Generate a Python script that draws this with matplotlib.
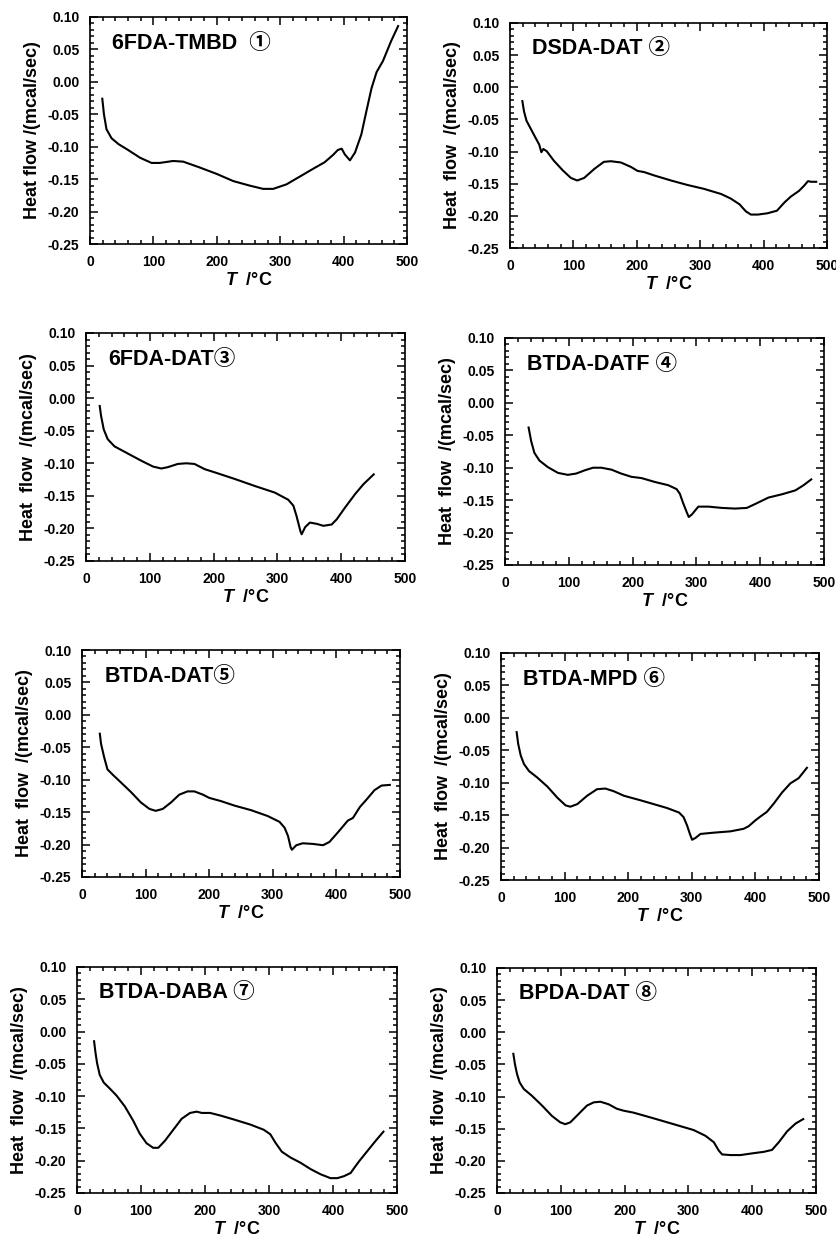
import numpy as np
import matplotlib
matplotlib.use("Agg")
import matplotlib.pyplot as plt
from matplotlib.ticker import MultipleLocator, FormatStrFormatter

plt.rcParams['font.family'] = ['Liberation Sans', 'Noto Sans CJK JP', 'DejaVu Sans']
plt.rcParams['mathtext.fontset'] = 'custom'
plt.rcParams['mathtext.it'] = 'Liberation Sans:italic:bold'
plt.rcParams['mathtext.rm'] = 'Liberation Sans:bold'

# DSC traces, heat flow (mcal/sec) vs temperature (degC)
names = ["6FDA-TMBD  ①", "DSDA-DAT ②", "6FDA-DAT③", "BTDA-DATF ④",
         "BTDA-DAT⑤", "BTDA-MPD ⑥", "BTDA-DABA ⑦", "BPDA-DAT ⑧"]

t1 = [19.4, 22, 26, 34, 45, 60, 79, 97, 110, 131, 147, 173, 200, 226, 252, 273, 289, 310,
      331, 352, 370, 383, 391, 397, 402, 410, 418, 428, 436, 444, 452, 462, 475, 486]
h1 = [-0.026, -0.050, -0.073, -0.087, -0.096, -0.105, -0.117, -0.125, -0.125, -0.122, -0.123,
      -0.132, -0.142, -0.153, -0.160, -0.165, -0.165, -0.158, -0.146, -0.134, -0.124, -0.113,
      -0.105, -0.103, -0.112, -0.121, -0.109, -0.081, -0.045, -0.010, 0.015, 0.032, 0.063, 0.086]

t2 = [19.5, 22, 26, 33, 40.5, 46, 49.5, 52.6, 58, 69, 83, 96, 106, 117, 133, 148, 159, 175,
      191, 201, 212, 227, 254, 280, 306, 333, 348, 362, 372, 380, 391, 406, 421, 433, 443,
      456, 464, 470, 475, 483]
h2 = [-0.0215, -0.037, -0.052, -0.065, -0.079, -0.089, -0.101, -0.096, -0.0995, -0.114,
      -0.129, -0.141, -0.145, -0.141, -0.127, -0.116, -0.115, -0.117, -0.124, -0.130, -0.132,
      -0.137, -0.145, -0.152, -0.158, -0.166, -0.173, -0.182, -0.193, -0.198, -0.198, -0.196,
      -0.192, -0.179, -0.170, -0.161, -0.153, -0.146, -0.147, -0.147]

t3 = [21.5, 23.6, 27.8, 34, 44.6, 65.5, 86.5, 105, 118, 128, 144, 157, 170, 186, 202, 233,
      265, 296, 317, 325, 330, 336, 338, 343.5, 351, 362, 372, 385, 393, 406, 422, 435, 451]
h3 = [-0.012, -0.027, -0.048, -0.063, -0.074, -0.085, -0.096, -0.105, -0.108, -0.106,
      -0.101, -0.100, -0.101, -0.109, -0.114, -0.124, -0.135, -0.145, -0.156, -0.165, -0.181,
      -0.204, -0.209, -0.198, -0.191, -0.193, -0.196, -0.194, -0.186, -0.168, -0.147, -0.132,
      -0.117]

t4 = [37, 41, 46, 54, 67, 83, 98.5, 111.6, 125, 138, 151, 167, 182, 198, 214, 235, 256, 269,
      274, 279, 285, 288, 293, 303, 319, 340, 360.5, 379, 392, 413, 434, 455, 468, 480]
h4 = [-0.038, -0.059, -0.077, -0.089, -0.099, -0.108, -0.111, -0.109, -0.104, -0.100,
      -0.100, -0.103, -0.109, -0.114, -0.116, -0.122, -0.127, -0.133, -0.140, -0.154, -0.169,
      -0.176, -0.172, -0.160, -0.160, -0.162, -0.163, -0.162, -0.156, -0.146, -0.141, -0.135,
      -0.127, -0.118]

t5 = [28, 30, 35, 40, 48, 61, 77, 92.5, 106, 116, 127, 140, 153, 166, 176.6, 190, 200,
      218.6, 240, 266, 292, 310.6, 318.5, 324, 328, 330, 337, 347, 363, 379, 389, 402.5, 418,
      426, 437, 447, 460, 471, 484]
h5 = [-0.029, -0.045, -0.066, -0.084, -0.092, -0.104, -0.119, -0.135, -0.145, -0.148,
      -0.145, -0.135, -0.123, -0.118, -0.118, -0.123, -0.128, -0.133, -0.140, -0.147, -0.156,
      -0.165, -0.174, -0.187, -0.204, -0.208, -0.201, -0.198, -0.199, -0.201, -0.196, -0.181,
      -0.163, -0.159, -0.142, -0.131, -0.116, -0.109, -0.108]

t6 = [24.6, 27, 31, 36, 44, 57, 73, 88.5, 101.6, 109, 120, 135.6, 151, 164, 177, 193, 204,
      219, 240, 261, 280, 287, 292.6, 297, 300.5, 306, 313.6, 334.6, 360.7, 381.7, 389.5,
      400, 408, 418, 429, 442, 455, 468, 481]
h6 = [-0.022, -0.040, -0.058, -0.071, -0.082, -0.092, -0.106, -0.123, -0.135, -0.137,
      -0.133, -0.120, -0.110, -0.109, -0.113, -0.120, -0.123, -0.127, -0.133, -0.139, -0.146,
      -0.153, -0.166, -0.179, -0.188, -0.185, -0.179, -0.177, -0.175, -0.171, -0.167, -0.158,
      -0.152, -0.145, -0.132, -0.115, -0.101, -0.093, -0.077]

t7 = [26.7, 28.8, 31.4, 35.5, 41.8, 51, 61.7, 74.8, 87.8, 98, 108.7, 119, 127, 137.5, 150.5,
      163.6, 176.7, 187, 195, 208, 224, 244.6, 270.8, 291.7, 302, 310, 320, 333.5, 349, 365,
      380.6, 396, 406.7, 417, 427.6, 434, 440.7, 453.7, 466.8, 478.8]
h7 = [-0.015, -0.032, -0.049, -0.067, -0.079, -0.088, -0.099, -0.116, -0.138, -0.158,
      -0.173, -0.180, -0.180, -0.169, -0.152, -0.135, -0.126, -0.124, -0.126, -0.126, -0.130,
      -0.136, -0.144, -0.152, -0.159, -0.172, -0.186, -0.195, -0.203, -0.213, -0.221, -0.227,
      -0.227, -0.224, -0.219, -0.210, -0.201, -0.185, -0.169, -0.155]

t8 = [25.6, 28.2, 31.4, 35.5, 41.8, 55, 70.6, 86, 99, 107, 115, 128, 141, 151.6, 162, 175,
      188, 198.6, 214, 246, 277, 308, 326.7, 339.8, 347.6, 352.9, 366, 381.6, 402.5, 418,
      431, 441.7, 454.8, 467.9, 480]
h8 = [-0.0335, -0.050, -0.065, -0.078, -0.088, -0.099, -0.114, -0.130, -0.140, -0.143,
      -0.140, -0.127, -0.114, -0.109, -0.108, -0.112, -0.119, -0.122, -0.125, -0.134, -0.143,
      -0.152, -0.161, -0.171, -0.184, -0.190, -0.191, -0.191, -0.188, -0.186, -0.183, -0.171,
      -0.154, -0.142, -0.135]

temps = [t1, t2, t3, t4, t5, t6, t7, t8]
flows = [h1, h2, h3, h4, h5, h6, h7, h8]

# axes boxes in pixels: left, top, right, bottom
W, H = 837, 1240
boxes = [(90, 17, 407, 244), (510, 23, 827, 248),
         (86, 333, 405, 561), (505, 338, 824, 565),
         (82, 650, 400, 877), (501, 653, 819, 880),
         (77, 967, 397, 1193), (497, 968, 816, 1193)]

fig = plt.figure(figsize=(W / 100, H / 100), dpi=100)

for i in range(8):
    l, t, r, b = boxes[i]
    ax = fig.add_axes([l / W, 1 - b / H, (r - l) / W, (b - t) / H])
    ax.plot(temps[i], flows[i], color='black', lw=1.5)
    ax.set_xlim(0, 500)
    ax.set_ylim(-0.25, 0.10)
    ax.xaxis.set_major_locator(MultipleLocator(100))
    ax.xaxis.set_minor_locator(MultipleLocator(20))
    ax.yaxis.set_major_locator(MultipleLocator(0.05))
    ax.yaxis.set_minor_locator(MultipleLocator(0.01))
    ax.yaxis.set_major_formatter(FormatStrFormatter('%.2f'))
    ax.tick_params(which='both', direction='in', top=True, right=True, width=1.1)
    ax.tick_params(which='major', length=6)
    ax.tick_params(which='minor', length=3)
    ax.tick_params(axis='y', pad=7.5, labelsize=10)
    ax.tick_params(axis='x', pad=8, labelsize=10)
    for lbl in ax.get_xticklabels() + ax.get_yticklabels():
        lbl.set_fontweight('bold')
    for s in ax.spines.values():
        s.set_linewidth(1.2)
    lab = "Heat flow /(mcal/sec)" if i == 0 else "Heat  flow  /(mcal/sec)"
    ax.set_ylabel(lab, fontsize=13, fontweight='bold', labelpad=5)
    ax.set_xlabel(r"$T$  /°C", fontsize=13, fontweight='bold', labelpad=2)
    ax.text(0.07, 0.885, names[i], transform=ax.transAxes, fontsize=15.5,
            fontweight='bold', va='center', ha='left')

fig.savefig("out.png", dpi=100)
